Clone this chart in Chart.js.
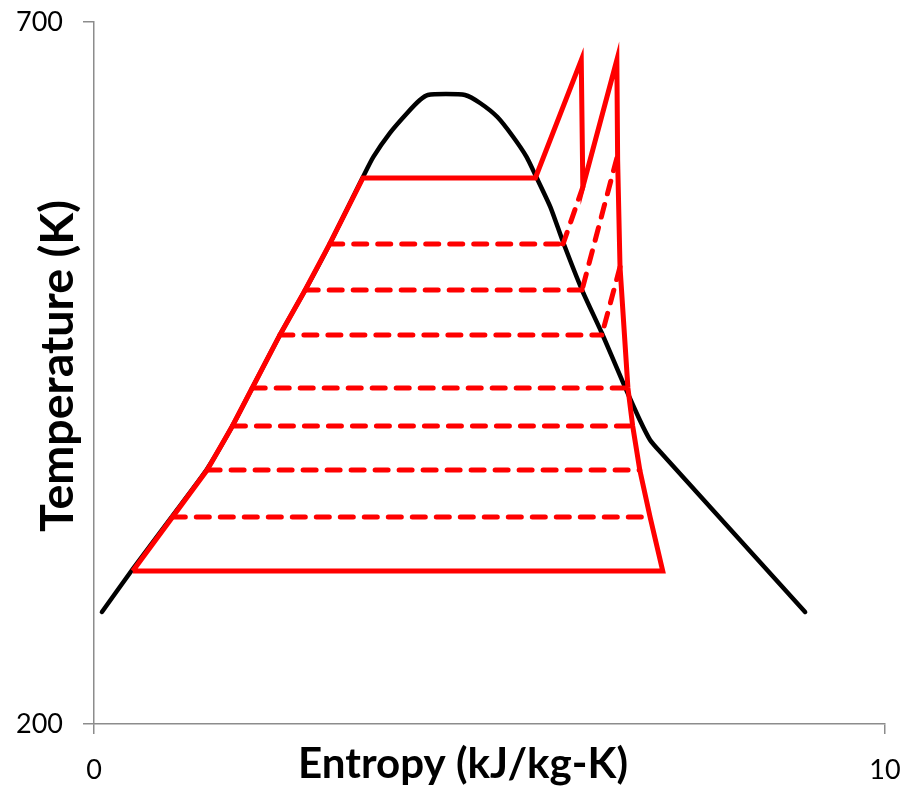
<!DOCTYPE html>
<html><head><meta charset="utf-8">
<script src="https://cdn.jsdelivr.net/npm/chart.js@4.4.1/dist/chart.umd.min.js"></script>
<style>html,body{margin:0;padding:0;background:#fff;overflow:hidden;}#wrap{width:907px;height:795px;}</style>
</head><body><div id="wrap"><canvas id="c" width="907" height="795"></canvas></div>
<script>
// ---- text ----
const xTitle = 'Entropy (kJ/kg-K)';
const yTitle = 'Temperature (K)';
const xTicks = [0, 10];
const yTicks = [200, 700];

// ---- saturation dome (black) ----
const domeS = [0.10, 0.49, 0.99, 1.43, 1.75, 2.00, 2.35, 2.67, 2.98, 3.40, 3.53, 3.74, 3.96, 4.12, 4.22, 4.45, 4.69, 4.88, 5.10, 5.30, 5.47, 5.58, 5.77, 5.93, 6.17, 6.42, 6.69, 6.90, 7.03, 7.16, 8.99];
const domeT = [279.8, 310.4, 348.1, 381.6, 412.3, 439.3, 477.1, 509.1, 541.9, 589.6, 603.8, 620.9, 635.2, 644.4, 648.0, 648.7, 648.0, 642.3, 632.3, 618.1, 603.8, 591.0, 568.2, 543.3, 509.1, 478.5, 442.9, 416.5, 402.3, 393.7, 279.8];

// ---- cycle outline (red solid) ----
const cycleS = [0.49, 1.43, 1.75, 2.00, 2.35, 2.67, 2.98, 3.40, 5.58, 6.16, 6.18, 6.61, 6.62, 6.65, 6.75, 6.81, 6.90, 7.03, 7.19, 0.49];
const cycleT = [309.0, 380.9, 412.3, 439.3, 477.1, 509.1, 541.9, 588.9, 588.9, 672.9, 582.5, 672.9, 601.7, 525.5, 439.3, 412.3, 380.9, 347.4, 309.0, 309.0];

// ---- intermediate pressure levels (red dashed) ----
const dashT = [541.9, 509.1, 477.1, 439.3, 412.3, 380.9, 347.4];
const dashSLeft = [2.98, 2.67, 2.35, 2.00, 1.75, 1.43, 0.99];
const dashSRight = [5.93, 6.17, 6.42, 6.75, 6.81, 6.90, 7.03];

// ---- dashed expansion segments ----
const diagSTop = [6.18, 6.61, 6.65];
const diagTTop = [582.5, 603.1, 525.5];
const diagSBot = [5.93, 6.17, 6.42];
const diagTBot = [541.9, 509.1, 477.1];

function pts(xs, ys) { return xs.map((x, i) => ({x: x, y: ys[i]})); }

function fitSize(text, weight, family, target) {
  const c = document.createElement('canvas').getContext('2d');
  c.font = weight + ' 100px ' + family;
  return 100 * target / c.measureText(text).width;
}
const FAMILY = 'Lato, "Open Sans", "Liberation Sans", sans-serif';
const tickSize = fitSize('700', 'normal', FAMILY, 47);
const xTitleSize = fitSize(xTitle, 'bold', FAMILY, 330);
const yTitleSize = fitSize(yTitle, 'bold', FAMILY, 332);

const RED = '#ff0000';
const datasets = [];
datasets.push({data: pts(cycleS, cycleT), borderColor: RED, borderWidth: 5, borderJoinStyle: 'miter', borderCapStyle: 'butt', order: 0});
dashT.forEach((t, i) => {
  datasets.push({data: [{x: dashSLeft[i], y: t}, {x: dashSRight[i], y: t}], borderColor: RED, borderWidth: 5, borderDash: [13, 11], borderCapStyle: 'round', order: 1});
});
diagSTop.forEach((s, i) => {
  datasets.push({data: [{x: s, y: diagTTop[i]}, {x: diagSBot[i], y: diagTBot[i]}], borderColor: RED, borderWidth: 5, borderDash: [13, 11], borderCapStyle: 'round', order: 1});
});
datasets.push({data: pts(domeS, domeT), borderColor: '#000', borderWidth: 4.5, borderJoinStyle: 'round', borderCapStyle: 'round', tension: 0.2, order: 2});
datasets.forEach(d => { d.showLine = true; d.pointRadius = 0; d.pointHoverRadius = 0; d.fill = false; });

const AXIS = '#8c8c8c';
const axisTitles = {
  id: 'axisTitles',
  afterDraw(chart) {
    const ctx = chart.ctx;
    const a = chart.chartArea;
    ctx.save();
    ctx.fillStyle = '#000';
    ctx.textAlign = 'center';
    ctx.textBaseline = 'alphabetic';
    ctx.font = 'bold ' + xTitleSize + 'px ' + FAMILY;
    ctx.fillText(xTitle, a.left + 369, a.bottom + 54);
    ctx.translate(a.left - 21, a.top + 344);
    ctx.rotate(-Math.PI / 2);
    ctx.font = 'bold ' + yTitleSize + 'px ' + FAMILY;
    ctx.fillText(yTitle, 0, 0);
    ctx.restore();
  }
};

new Chart(document.getElementById('c'), {
  type: 'scatter',
  data: {datasets: datasets},
  options: {
    responsive: false,
    animation: false,
    devicePixelRatio: 1,
    layout: {padding: {top: 22, right: 22, left: 0, bottom: 0}},
    plugins: {legend: {display: false}, tooltip: {enabled: false}},
    scales: {
      x: {
        type: 'linear', min: xTicks[0], max: xTicks[xTicks.length - 1],
        afterBuildTicks: s => { s.ticks = xTicks.map(v => ({value: v})); },
        afterFit: s => { s.height = 71; s.paddingLeft = 0; s.paddingRight = 0; },
        ticks: {font: {family: FAMILY, size: tickSize}, color: '#000', padding: 20, maxRotation: 0, autoSkip: false},
        grid: {drawOnChartArea: false, drawTicks: true, tickLength: 10, color: AXIS, lineWidth: 1.5},
        border: {color: AXIS, width: 1.5}
      },
      y: {
        type: 'linear', min: yTicks[0], max: yTicks[yTicks.length - 1],
        afterBuildTicks: s => { s.ticks = yTicks.map(v => ({value: v})); },
        afterFit: s => { s.width = 94; s.paddingTop = 0; s.paddingBottom = 0; },
        ticks: {font: {family: FAMILY, size: tickSize}, color: '#000', padding: 20, autoSkip: false},
        grid: {drawOnChartArea: false, drawTicks: true, tickLength: 11, color: AXIS, lineWidth: 1.5},
        border: {color: AXIS, width: 1.5}
      }
    }
  },
  plugins: [axisTitles]
});
</script>
</body></html>
